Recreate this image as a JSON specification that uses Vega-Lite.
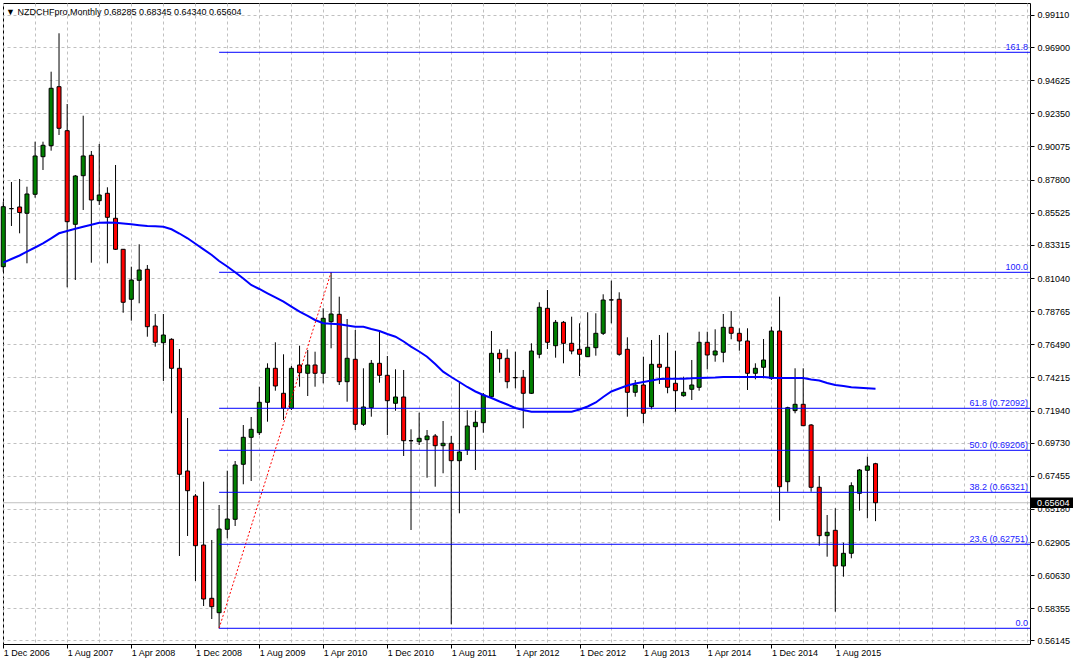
{
  "$schema": "https://vega.github.io/schema/vega-lite/v6.json",
  "width": 1027,
  "height": 641,
  "autosize": {"type": "none"},
  "padding": {"left": 3, "top": 3, "right": 43, "bottom": 21},
  "background": "white",
  "config": {
    "view": {"stroke": "black", "strokeWidth": 1},
    "font": "Liberation Sans"
  },
  "title": {
    "text": "▼  NZDCHFpro,Monthly  0.68285 0.68345 0.64340 0.65604",
    "anchor": "start",
    "frame": "group",
    "orient": "top",
    "offset": -14,
    "dx": 3,
    "font": "Liberation Sans",
    "fontSize": 9,
    "fontWeight": "normal",
    "color": "black"
  },
  "datasets": {
    "candles": [
      {"d":"2006-12-01","o":0.81818,"h":0.86283,"l":0.81474,"c":0.85939,"ma":0.82093},
      {"d":"2007-01-01","o":0.8581,"h":0.87636,"l":0.84614,"c":0.8580,"ma":0.82347},
      {"d":"2007-02-01","o":0.85919,"h":0.87842,"l":0.84112,"c":0.85541,"ma":0.82588},
      {"d":"2007-03-01","o":0.85486,"h":0.87313,"l":0.82051,"c":0.86812,"ma":0.82849},
      {"d":"2007-04-01","o":0.86791,"h":0.90404,"l":0.86557,"c":0.89422,"ma":0.83137},
      {"d":"2007-05-01","o":0.89374,"h":0.90404,"l":0.8846,"c":0.90157,"ma":0.83426},
      {"d":"2007-06-01","o":0.90129,"h":0.95212,"l":0.89786,"c":0.94072,"ma":0.83769},
      {"d":"2007-07-01","o":0.94182,"h":0.9785,"l":0.90864,"c":0.91325,"ma":0.84112},
      {"d":"2007-08-01","o":0.9116,"h":0.92994,"l":0.80403,"c":0.84909,"ma":0.8427},
      {"d":"2007-09-01","o":0.8473,"h":0.88117,"l":0.80904,"c":0.88048,"ma":0.84421},
      {"d":"2007-10-01","o":0.88069,"h":0.9219,"l":0.85713,"c":0.89422,"ma":0.84566},
      {"d":"2007-11-01","o":0.8947,"h":0.89765,"l":0.82093,"c":0.864,"ma":0.84703},
      {"d":"2007-12-01","o":0.86351,"h":0.90246,"l":0.86056,"c":0.86743,"ma":0.8484},
      {"d":"2008-01-01","o":0.8686,"h":0.87272,"l":0.82051,"c":0.85211,"ma":0.84854},
      {"d":"2008-02-01","o":0.85143,"h":0.88804,"l":0.82965,"c":0.83013,"ma":0.8484},
      {"d":"2008-03-01","o":0.83013,"h":0.83034,"l":0.78658,"c":0.79373,"ma":0.84785},
      {"d":"2008-04-01","o":0.79579,"h":0.81818,"l":0.78109,"c":0.80904,"ma":0.8473},
      {"d":"2008-05-01","o":0.80884,"h":0.83357,"l":0.79304,"c":0.81591,"ma":0.84668},
      {"d":"2008-06-01","o":0.81639,"h":0.81935,"l":0.7701,"c":0.77697,"ma":0.84614},
      {"d":"2008-07-01","o":0.77745,"h":0.78569,"l":0.76323,"c":0.76625,"ma":0.84593},
      {"d":"2008-08-01","o":0.76597,"h":0.78569,"l":0.73967,"c":0.77126,"ma":0.84566},
      {"d":"2008-09-01","o":0.76831,"h":0.769,"l":0.71748,"c":0.74839,"ma":0.84387},
      {"d":"2008-10-01","o":0.74839,"h":0.76165,"l":0.61946,"c":0.67558,"ma":0.84098},
      {"d":"2008-11-01","o":0.67785,"h":0.71425,"l":0.6332,"c":0.66431,"ma":0.83769},
      {"d":"2008-12-01","o":0.66067,"h":0.66205,"l":0.60229,"c":0.62653,"ma":0.83391},
      {"d":"2009-01-01","o":0.62701,"h":0.6705,"l":0.58511,"c":0.58992,"ma":0.83013},
      {"d":"2009-02-01","o":0.5904,"h":0.63045,"l":0.57618,"c":0.58463,"ma":0.82622},
      {"d":"2009-03-01","o":0.58051,"h":0.65449,"l":0.5698,"c":0.63801,"ma":0.8221},
      {"d":"2009-04-01","o":0.6378,"h":0.67805,"l":0.63162,"c":0.64487,"ma":0.81832},
      {"d":"2009-05-01","o":0.64467,"h":0.68471,"l":0.64007,"c":0.68197,"ma":0.81434},
      {"d":"2009-06-01","o":0.68245,"h":0.70944,"l":0.66871,"c":0.70099,"ma":0.81008},
      {"d":"2009-07-01","o":0.70099,"h":0.71494,"l":0.67098,"c":0.70649,"ma":0.80561},
      {"d":"2009-08-01","o":0.70415,"h":0.73575,"l":0.70257,"c":0.72503,"ma":0.80287},
      {"d":"2009-09-01","o":0.72503,"h":0.75182,"l":0.71171,"c":0.74839,"ma":0.79992},
      {"d":"2009-10-01","o":0.74839,"h":0.76625,"l":0.733,"c":0.73623,"ma":0.79703},
      {"d":"2009-11-01","o":0.73122,"h":0.75801,"l":0.71288,"c":0.72091,"ma":0.79414},
      {"d":"2009-12-01","o":0.72091,"h":0.74997,"l":0.71975,"c":0.74839,"ma":0.79071},
      {"d":"2010-01-01","o":0.75066,"h":0.76391,"l":0.73575,"c":0.74537,"ma":0.78728},
      {"d":"2010-02-01","o":0.74496,"h":0.76096,"l":0.72936,"c":0.75066,"ma":0.78432},
      {"d":"2010-03-01","o":0.75066,"h":0.75979,"l":0.73575,"c":0.74496,"ma":0.78157},
      {"d":"2010-04-01","o":0.74496,"h":0.7896,"l":0.73809,"c":0.78273,"ma":0.7793},
      {"d":"2010-05-01","o":0.7804,"h":0.81433,"l":0.76213,"c":0.78569,"ma":0.77896},
      {"d":"2010-06-01","o":0.78548,"h":0.79757,"l":0.73692,"c":0.73919,"ma":0.77862},
      {"d":"2010-07-01","o":0.73919,"h":0.78225,"l":0.72545,"c":0.75526,"ma":0.77779},
      {"d":"2010-08-01","o":0.75457,"h":0.7747,"l":0.70601,"c":0.70992,"ma":0.77697},
      {"d":"2010-09-01","o":0.70992,"h":0.74839,"l":0.70876,"c":0.72181,"ma":0.77697},
      {"d":"2010-10-01","o":0.72133,"h":0.75409,"l":0.71514,"c":0.75182,"ma":0.77539},
      {"d":"2010-11-01","o":0.75182,"h":0.77422,"l":0.7385,"c":0.74358,"ma":0.77401},
      {"d":"2010-12-01","o":0.74358,"h":0.75684,"l":0.70257,"c":0.72613,"ma":0.77195},
      {"d":"2011-01-01","o":0.72435,"h":0.7477,"l":0.71927,"c":0.72868,"ma":0.7701},
      {"d":"2011-02-01","o":0.72868,"h":0.74722,"l":0.68815,"c":0.69866,"ma":0.7668},
      {"d":"2011-03-01","o":0.6987,"h":0.70649,"l":0.63732,"c":0.6986,"ma":0.76323},
      {"d":"2011-04-01","o":0.69797,"h":0.71789,"l":0.6957,"c":0.70031,"ma":0.75993},
      {"d":"2011-05-01","o":0.69935,"h":0.70601,"l":0.67324,"c":0.70189,"ma":0.75636},
      {"d":"2011-06-01","o":0.70189,"h":0.70326,"l":0.66706,"c":0.69522,"ma":0.75134},
      {"d":"2011-07-01","o":0.69522,"h":0.71219,"l":0.67627,"c":0.69687,"ma":0.74605},
      {"d":"2011-08-01","o":0.69687,"h":0.70189,"l":0.57254,"c":0.68492,"ma":0.74242},
      {"d":"2011-09-01","o":0.68492,"h":0.7385,"l":0.64879,"c":0.6909,"ma":0.73898},
      {"d":"2011-10-01","o":0.69227,"h":0.71954,"l":0.68884,"c":0.70876,"ma":0.73555},
      {"d":"2011-11-01","o":0.70827,"h":0.7194,"l":0.67853,"c":0.7113,"ma":0.73246},
      {"d":"2011-12-01","o":0.71102,"h":0.73142,"l":0.70415,"c":0.73005,"ma":0.73005},
      {"d":"2012-01-01","o":0.72888,"h":0.77401,"l":0.72778,"c":0.75869,"ma":0.72799},
      {"d":"2012-02-01","o":0.75869,"h":0.76144,"l":0.74537,"c":0.75498,"ma":0.72559},
      {"d":"2012-03-01","o":0.75526,"h":0.76144,"l":0.73465,"c":0.73919,"ma":0.72353},
      {"d":"2012-04-01","o":0.742,"h":0.75979,"l":0.73465,"c":0.7419,"ma":0.72112},
      {"d":"2012-05-01","o":0.74221,"h":0.74722,"l":0.70718,"c":0.73122,"ma":0.71975},
      {"d":"2012-06-01","o":0.73122,"h":0.76556,"l":0.73074,"c":0.76027,"ma":0.71858},
      {"d":"2012-07-01","o":0.75801,"h":0.79373,"l":0.75526,"c":0.79029,"ma":0.71858},
      {"d":"2012-08-01","o":0.7896,"h":0.80217,"l":0.76165,"c":0.76625,"ma":0.71858},
      {"d":"2012-09-01","o":0.76391,"h":0.78157,"l":0.75567,"c":0.77998,"ma":0.71858},
      {"d":"2012-10-01","o":0.77998,"h":0.78088,"l":0.75182,"c":0.76556,"ma":0.71858},
      {"d":"2012-11-01","o":0.76556,"h":0.78383,"l":0.75801,"c":0.76027,"ma":0.71858},
      {"d":"2012-12-01","o":0.76144,"h":0.7793,"l":0.7431,"c":0.75801,"ma":0.72009},
      {"d":"2013-01-01","o":0.75636,"h":0.78686,"l":0.75615,"c":0.76282,"ma":0.72215},
      {"d":"2013-02-01","o":0.76254,"h":0.78617,"l":0.75705,"c":0.77243,"ma":0.7249},
      {"d":"2013-03-01","o":0.77243,"h":0.79922,"l":0.77126,"c":0.7953,"ma":0.72868},
      {"d":"2013-04-01","o":0.7954,"h":0.80856,"l":0.7793,"c":0.7953,"ma":0.73246},
      {"d":"2013-05-01","o":0.79579,"h":0.80059,"l":0.75705,"c":0.75801,"ma":0.73451},
      {"d":"2013-06-01","o":0.76144,"h":0.76968,"l":0.71514,"c":0.7319,"ma":0.73657},
      {"d":"2013-07-01","o":0.7319,"h":0.74035,"l":0.72888,"c":0.73692,"ma":0.73795},
      {"d":"2013-08-01","o":0.73692,"h":0.75636,"l":0.71061,"c":0.71748,"ma":0.73898},
      {"d":"2013-09-01","o":0.72201,"h":0.76783,"l":0.72023,"c":0.75114,"ma":0.74001},
      {"d":"2013-10-01","o":0.75114,"h":0.77126,"l":0.73761,"c":0.74908,"ma":0.74104},
      {"d":"2013-11-01","o":0.74908,"h":0.77284,"l":0.73122,"c":0.73534,"ma":0.74125},
      {"d":"2013-12-01","o":0.73809,"h":0.76048,"l":0.71858,"c":0.733,"ma":0.74125},
      {"d":"2014-01-01","o":0.72957,"h":0.74262,"l":0.72888,"c":0.7319,"ma":0.74125},
      {"d":"2014-02-01","o":0.73397,"h":0.75409,"l":0.72662,"c":0.73692,"ma":0.74152},
      {"d":"2014-03-01","o":0.73534,"h":0.77353,"l":0.733,"c":0.76625,"ma":0.74173},
      {"d":"2014-04-01","o":0.76625,"h":0.77353,"l":0.7477,"c":0.75753,"ma":0.74193},
      {"d":"2014-05-01","o":0.75753,"h":0.77518,"l":0.75292,"c":0.76027,"ma":0.74207},
      {"d":"2014-06-01","o":0.75938,"h":0.78569,"l":0.75251,"c":0.77655,"ma":0.74242},
      {"d":"2014-07-01","o":0.77655,"h":0.78775,"l":0.76831,"c":0.77243,"ma":0.74242},
      {"d":"2014-08-01","o":0.77243,"h":0.77587,"l":0.76048,"c":0.76714,"ma":0.74242},
      {"d":"2014-09-01","o":0.76714,"h":0.77587,"l":0.73349,"c":0.74496,"ma":0.74242},
      {"d":"2014-10-01","o":0.74496,"h":0.75182,"l":0.74083,"c":0.74839,"ma":0.74242},
      {"d":"2014-11-01","o":0.74908,"h":0.76852,"l":0.74152,"c":0.75409,"ma":0.74242},
      {"d":"2014-12-01","o":0.74152,"h":0.77697,"l":0.74035,"c":0.77401,"ma":0.74187},
      {"d":"2015-01-01","o":0.77401,"h":0.79757,"l":0.64371,"c":0.66706,"ma":0.74173},
      {"d":"2015-02-01","o":0.6705,"h":0.72201,"l":0.66362,"c":0.72133,"ma":0.74173},
      {"d":"2015-03-01","o":0.7194,"h":0.74839,"l":0.71748,"c":0.72366,"ma":0.74173},
      {"d":"2015-04-01","o":0.72366,"h":0.74839,"l":0.70876,"c":0.70896,"ma":0.74173},
      {"d":"2015-05-01","o":0.70944,"h":0.71012,"l":0.66362,"c":0.66665,"ma":0.7407},
      {"d":"2015-06-01","o":0.66665,"h":0.67441,"l":0.62653,"c":0.63341,"ma":0.74001},
      {"d":"2015-07-01","o":0.63341,"h":0.64762,"l":0.61898,"c":0.63574,"ma":0.7383},
      {"d":"2015-08-01","o":0.63711,"h":0.65222,"l":0.5812,"c":0.61259,"ma":0.73692},
      {"d":"2015-09-01","o":0.61259,"h":0.6286,"l":0.60524,"c":0.62131,"ma":0.73623},
      {"d":"2015-10-01","o":0.62131,"h":0.67008,"l":0.61788,"c":0.66775,"ma":0.73541},
      {"d":"2015-11-01","o":0.66253,"h":0.67922,"l":0.65058,"c":0.67853,"ma":0.735},
      {"d":"2015-12-01","o":0.67833,"h":0.68767,"l":0.64535,"c":0.68128,"ma":0.73465},
      {"d":"2016-01-01","o":0.68285,"h":0.68345,"l":0.6434,"c":0.65604,"ma":0.73438}
    ],
    "fib": [
      {"lab":"161.8","p":0.96545,"start":"2009-03-01","end":"2017-08-10T16:00:00Z"},
      {"lab":"100.0","p":0.81433,"start":"2009-03-01","end":"2017-08-10T16:00:00Z"},
      {"lab":"61.8 (0.72092)","p":0.72092,"start":"2009-03-01","end":"2017-08-10T16:00:00Z"},
      {"lab":"50.0 (0.69206)","p":0.69206,"start":"2009-03-01","end":"2017-08-10T16:00:00Z"},
      {"lab":"38.2 (0.66321)","p":0.66321,"start":"2009-03-01","end":"2017-08-10T16:00:00Z"},
      {"lab":"23.6 (0.62751)","p":0.62751,"start":"2009-03-01","end":"2017-08-10T16:00:00Z"},
      {"lab":"0.0","p":0.5698,"start":"2009-03-01","end":"2017-08-10T16:00:00Z"}
    ],
    "trend": [
      {"d":"2009-03-01","p":0.5698},
      {"d":"2010-05-01","p":0.81433}
    ],
    "last": [
      {"d":"2017-08-10T16:00:00Z","p":0.65604,"lab":"0.65604"}
    ]
  },
  "encoding": {
    "x": {
      "field": "d",
      "type": "temporal",
      "title": null,
      "scale": {
        "type": "utc",
        "padding": 0,
        "domain": [
          {"year": 2006, "month": "nov", "date": 29, "hours": 21, "utc": true},
          {"year": 2017, "month": "aug", "date": 10, "hours": 16, "utc": true}
        ]
      },
      "axis": {
        "values": [
          {"year":2006,"month":"dec","date":1,"utc":true},
          {"year":2007,"month":"apr","date":1,"utc":true},
          {"year":2007,"month":"aug","date":1,"utc":true},
          {"year":2007,"month":"dec","date":1,"utc":true},
          {"year":2008,"month":"apr","date":1,"utc":true},
          {"year":2008,"month":"aug","date":1,"utc":true},
          {"year":2008,"month":"dec","date":1,"utc":true},
          {"year":2009,"month":"apr","date":1,"utc":true},
          {"year":2009,"month":"aug","date":1,"utc":true},
          {"year":2009,"month":"dec","date":1,"utc":true},
          {"year":2010,"month":"apr","date":1,"utc":true},
          {"year":2010,"month":"aug","date":1,"utc":true},
          {"year":2010,"month":"dec","date":1,"utc":true},
          {"year":2011,"month":"apr","date":1,"utc":true},
          {"year":2011,"month":"aug","date":1,"utc":true},
          {"year":2011,"month":"dec","date":1,"utc":true},
          {"year":2012,"month":"apr","date":1,"utc":true},
          {"year":2012,"month":"aug","date":1,"utc":true},
          {"year":2012,"month":"dec","date":1,"utc":true},
          {"year":2013,"month":"apr","date":1,"utc":true},
          {"year":2013,"month":"aug","date":1,"utc":true},
          {"year":2013,"month":"dec","date":1,"utc":true},
          {"year":2014,"month":"apr","date":1,"utc":true},
          {"year":2014,"month":"aug","date":1,"utc":true},
          {"year":2014,"month":"dec","date":1,"utc":true},
          {"year":2015,"month":"apr","date":1,"utc":true},
          {"year":2015,"month":"aug","date":1,"utc":true},
          {"year":2015,"month":"dec","date":1,"utc":true},
          {"year":2016,"month":"apr","date":1,"utc":true},
          {"year":2016,"month":"aug","date":1,"utc":true},
          {"year":2016,"month":"dec","date":1,"utc":true},
          {"year":2017,"month":"apr","date":1,"utc":true},
          {"year":2017,"month":"aug","date":1,"utc":true}
        ],
        "labelExpr": "((utcyear(datum.value)*12+utcmonth(datum.value)-24083) % 8 == 0 && utcyear(datum.value)*12+utcmonth(datum.value) <= 24187) ? utcFormat(datum.value, '%-d %b %Y') : ''",
        "tickOpacity": {"condition": {"test": "(utcyear(datum.value)*12+utcmonth(datum.value)-24083) % 8 == 0 && utcyear(datum.value)*12+utcmonth(datum.value) <= 24187", "value": 1}, "value": 0},
        "grid": true,
        "gridColor": "#c0c0c0",
        "gridDash": [3, 3],
        "gridWidth": 1,
        "domain": false,
        "tickColor": "black",
        "tickSize": 4,
        "labelAlign": "left",
        "labelBaseline": "top",
        "labelPadding": 0,
        "labelFont": "Liberation Sans",
        "labelFontSize": 9,
        "labelColor": "black",
        "labelOverlap": false,
        "labelFlush": false,
        "labelBound": false,
        "zindex": 0
      }
    },
    "y": {
      "type": "quantitative",
      "title": null,
      "scale": {"domain": [0.55901, 0.99931], "zero": false, "nice": false, "padding": 0},
      "axis": {
        "orient": "right",
        "values": [0.56145, 0.58355, 0.6063, 0.62905, 0.6518, 0.67455, 0.6973, 0.7194, 0.74215, 0.7649, 0.78765, 0.8104, 0.83315, 0.85525, 0.878, 0.90075, 0.9235, 0.94625, 0.969, 0.9911],
        "format": ".5f",
        "grid": true,
        "gridColor": "#c0c0c0",
        "gridDash": [3, 3],
        "gridWidth": 1,
        "domain": false,
        "tickColor": "black",
        "tickSize": 4,
        "labelPadding": 3,
        "labelFont": "Liberation Sans",
        "labelFontSize": 9,
        "labelColor": "black",
        "labelBaseline": "middle",
        "labelOverlap": false,
        "labelFlush": false,
        "labelBound": false,
        "zindex": 0
      }
    }
  },
  "layer": [
    {
      "data": {"name": "last"},
      "mark": {"type": "rule", "color": "#c0c0c0", "strokeWidth": 1},
      "encoding": {"x": null, "y": {"field": "p", "type": "quantitative"}}
    },
    {
      "data": {"name": "candles"},
      "mark": {"type": "rule", "color": "black", "strokeWidth": 1},
      "encoding": {
        "y": {"field": "l", "type": "quantitative"},
        "y2": {"field": "h"}
      }
    },
    {
      "data": {"name": "candles"},
      "mark": {"type": "bar", "width": 4, "stroke": "black", "strokeWidth": 1},
      "encoding": {
        "y": {"field": "o", "type": "quantitative"},
        "y2": {"field": "c"},
        "color": {
          "condition": {"test": "datum.c >= datum.o", "value": "#008000"},
          "value": "#ff0000"
        }
      }
    },
    {
      "data": {"name": "candles"},
      "mark": {"type": "line", "color": "#0000ff", "strokeWidth": 2},
      "encoding": {"y": {"field": "ma", "type": "quantitative"}}
    },
    {
      "data": {"name": "trend"},
      "mark": {"type": "line", "color": "#ff0000", "strokeWidth": 1, "strokeDash": [2, 2]},
      "encoding": {"y": {"field": "p", "type": "quantitative"}}
    },
    {
      "data": {"name": "fib"},
      "mark": {"type": "rule", "color": "#0000ff", "strokeWidth": 1},
      "encoding": {
        "x": {"field": "start", "type": "temporal"},
        "x2": {"field": "end"},
        "y": {"field": "p", "type": "quantitative"}
      }
    },
    {
      "data": {"name": "fib"},
      "mark": {"type": "text", "align": "right", "baseline": "alphabetic", "dx": -2, "dy": -2, "font": "Liberation Sans", "fontSize": 9, "color": "#2020ff"},
      "encoding": {
        "x": {"field": "end", "type": "temporal"},
        "y": {"field": "p", "type": "quantitative"},
        "text": {"field": "lab"}
      }
    },
    {
      "data": {"name": "last"},
      "mark": {"type": "point", "shape": "M0,-0.25L2,-0.25L2,0.25L0,0.25Z", "size": 1764, "filled": true, "color": "black", "opacity": 1, "strokeWidth": 0, "xOffset": 1},
      "encoding": {
        "y": {"field": "p", "type": "quantitative"}
      }
    },
    {
      "data": {"name": "last"},
      "mark": {"type": "text", "align": "left", "baseline": "middle", "dx": 7, "font": "Liberation Sans", "fontSize": 9, "color": "white"},
      "encoding": {
        "y": {"field": "p", "type": "quantitative"},
        "text": {"field": "lab"}
      }
    }
  ]
}
